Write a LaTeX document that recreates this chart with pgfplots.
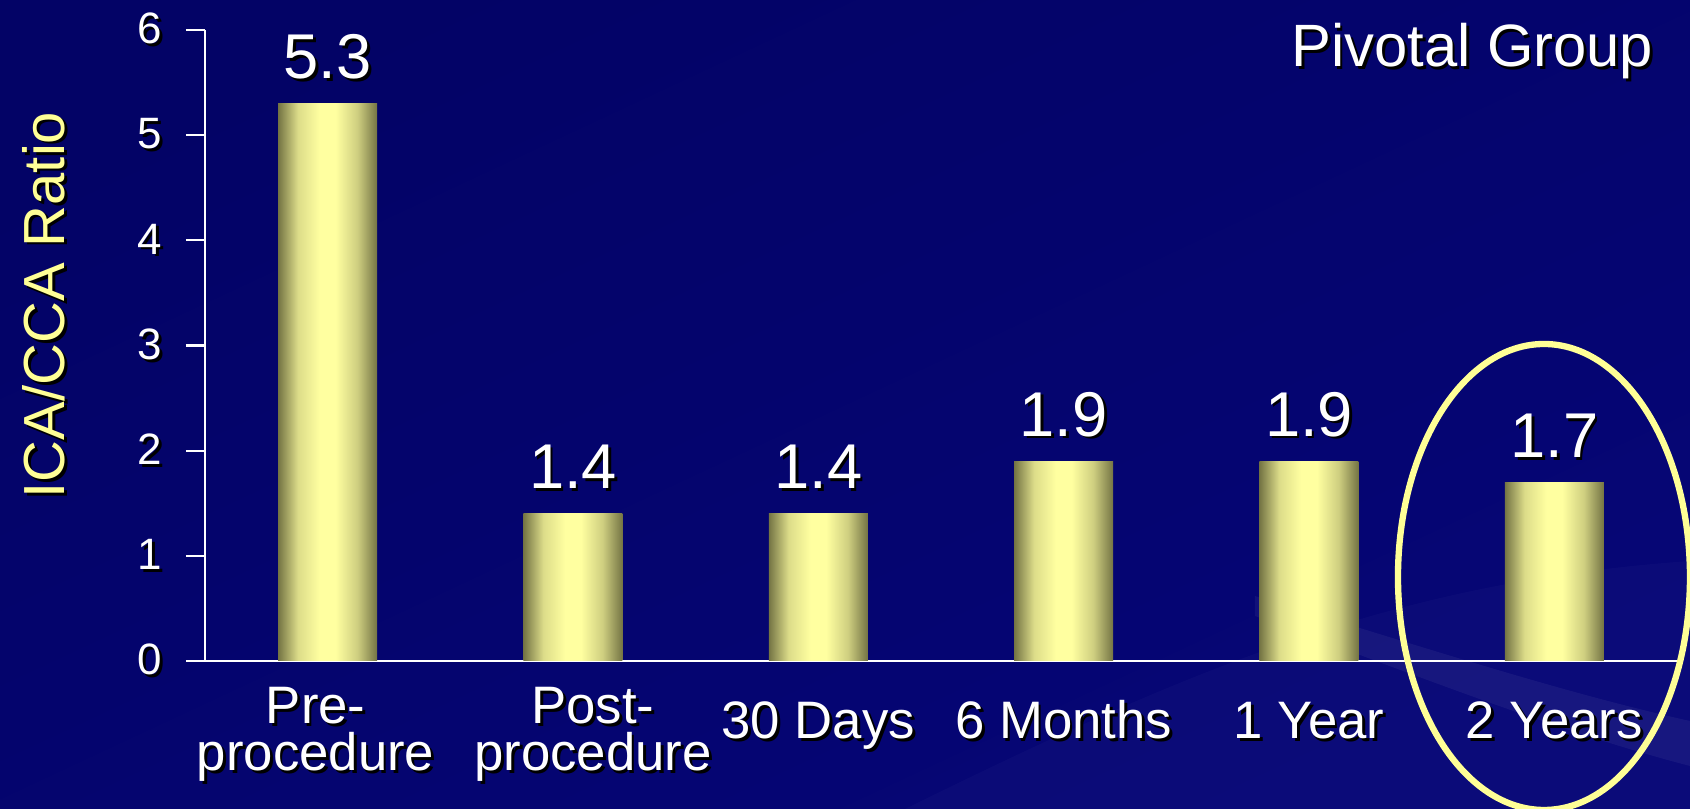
\documentclass[border=0pt]{standalone}
\usepackage{pgfplots}
\pgfplotsset{compat=1.18}
\usepackage{fontspec}
\setmainfont{Liberation Sans}
\definecolor{bgnavy}{RGB}{6,6,118}
\definecolor{bgdark}{RGB}{3,3,102}
\definecolor{bardark}{RGB}{116,116,68}
\definecolor{barlight}{RGB}{255,255,160}
\definecolor{hlyellow}{RGB}{255,255,150}
% TikZ maps the 25bp..75bp band of a shading onto the path
\pgfdeclarehorizontalshading{barshade}{100bp}{
  color(0bp)=(bardark);
  color(25bp)=(bardark);
  color(35bp)=(bardark!25!barlight);
  color(46bp)=(barlight);
  color(54bp)=(barlight);
  color(65bp)=(bardark!35!barlight);
  color(75bp)=(bardark);
  color(100bp)=(bardark)}
% text with a black drop shadow (right/down)
\newcommand{\sh}[1]{\makebox[0pt][l]{\kern0.28mm\raisebox{-0.28mm}{\color{black}#1}}#1}
% shadow for text rotated by 90 degrees
\newcommand{\shr}[1]{\makebox[0pt][l]{\kern-0.28mm\raisebox{-0.28mm}{\color{black}#1}}#1}
\newcommand{\one}[1]{\rule{0pt}{5.1mm}\sh{#1}}
\pgfplotsset{
  mybar/.style={ybar, bar width=9.9mm, draw=none,
    shade, shading=barshade,
    point meta=explicit symbolic,
    nodes near coords={\sh{\pgfplotspointmeta}},
    every node near coord/.append style={anchor=base, yshift=2.5mm, inner sep=0pt,
      font=\fontsize{18}{20}\selectfont, text=white, shade=false, fill=none}},
}
\begin{document}
\begin{tikzpicture}
\useasboundingbox (-20.5mm,-14.8mm) rectangle (148.5mm,66.1mm);
\clip (-20.5mm,-14.8mm) rectangle (148.5mm,66.1mm);
\shade[top color=bgdark, bottom color=bgnavy, shading angle=25] (-20.5mm,-14.8mm) rectangle (148.5mm,66.1mm);
\fill[white, opacity=0.025] (70mm,-14.8mm) .. controls (100mm,0mm) and (120mm,8mm) .. (148.5mm,10mm) -- (148.5mm,-14.8mm) -- cycle;
\fill[white, opacity=0.05] (105mm,6.5mm) .. controls (120mm,2mm) and (135mm,-3mm) .. (148.5mm,-6mm) -- (148.5mm,-10.5mm) .. controls (135mm,-7mm) and (120mm,-1mm) .. (105mm,4.5mm) -- cycle;
\begin{axis}[
  at={(0,0)}, anchor=south west,
  scale only axis, width=147.2mm, height=63.1mm,
  xmin=0.5, xmax=6.5, ymin=0, ymax=6,
  axis lines=left,
  axis line style={white, line width=0.6pt, -},
  tick align=outside,
  xtick=\empty,
  minor xtick={0.5,1.5,...,6.5},
  minor tick length=1.2mm,
  major tick length=1.9mm,
  tick style={white, line width=0.6pt},
  minor tick style={white, line width=0.6pt},
  ytick={0,1,2,3,4,5,6},
  yticklabels={\sh{0},\sh{1},\sh{2},\sh{3},\sh{4},\sh{5},\sh{6}},
  yticklabel style={font=\fontsize{12.5}{14}\selectfont, text=white, anchor=east, inner sep=0pt, xshift=-2.3mm},
  extra x ticks={1,2,3,4,5,6},
  extra x tick labels={{\hspace*{-2.4mm}\sh{Pre-}\\\hspace*{-2.4mm}\sh{procedure}},{\hspace*{4mm}\sh{Post-}\\\hspace*{4mm}\sh{procedure}},\one{30 Days},\one{6 Months},\one{1 Year},\one{2 Years}},
  extra x tick style={major tick length=0pt, tick style={draw=none}},
  xticklabel style={font=\fontsize{15}{13.2}\selectfont, text=white, align=center, anchor=north, inner sep=0pt, yshift=-2.6mm},
  ylabel={\shr{ICA/CCA Ratio}},
  every axis y label/.style={at={(axis description cs:-0.1087,0.564)}, rotate=90, anchor=center, font=\fontsize{16.5}{18}\selectfont, text=hlyellow},
  clip=false,
]
\addplot[mybar] coordinates {(1,5.3)[5.3]};
\addplot[mybar] coordinates {(2,1.4)[1.4]};
\addplot[mybar] coordinates {(3,1.4)[1.4]};
\addplot[mybar] coordinates {(4,1.9)[1.9]};
\addplot[mybar] coordinates {(5,1.9)[1.9]};
\addplot[mybar] coordinates {(6,1.7)[1.7]};
\end{axis}
\node[anchor=base east, text=white, font=\fontsize{17}{20}\selectfont, inner sep=0pt] at (144.9mm,59.45mm) {\sh{Pivotal Group}};
\draw[hlyellow, line width=1.8pt] (133.9mm,8.4mm) ellipse [x radius=14.6mm, y radius=23.3mm];
\end{tikzpicture}
\end{document}
